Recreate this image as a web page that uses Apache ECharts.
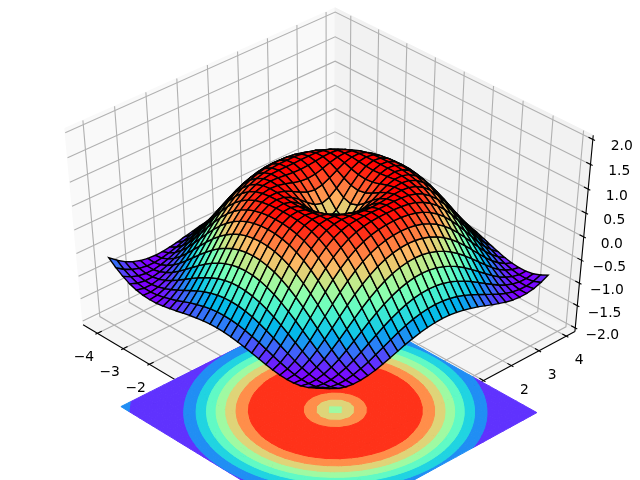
<!DOCTYPE html>
<html><head><meta charset="utf-8">
<style>html,body{margin:0;padding:0;background:#fff}#c{width:640px;height:480px}</style>
<script src="https://cdn.jsdelivr.net/npm/echarts@6/dist/echarts.min.js"></script>
</head><body><div id="c"></div>
<script>
const xTicks=[-4,-3,-2,-1,0,1,2,3,4];
const yTicks=[-4,-3,-2,-1,0,1,2,3,4];
const zTicks=[-2,-1.5,-1,-0.5,0,0.5,1,1.5,2];
const gridSteps=[-4,-3.75,-3.5,-3.25,-3,-2.75,-2.5,-2.25,-2,-1.75,-1.5,-1.25,-1,-0.75,-0.5,-0.25,0,0.25,0.5,0.75,1,1.25,1.5,1.75,2,2.25,2.5,2.75,3,3.25,3.5,3.75];
const contourLevels=[-1,-0.75,-0.5,-0.25,0,0.25,0.5,0.75,1];
// surface height, by grid-step distance from the centre (0..16) along each horizontal direction
const heightTable=[
[0,.247,.479,.682,.841,.949,.997,.984,.909,.778,.598,.382,.141,-.108,-.351,-.572,-.757],
[.247,.346,.530,.711,.858,.957,.999,.981,.903,.769,.588,.372,.131,-.117,-.359,-.579,-.762],
[.479,.530,.650,.784,.899,.975,1,.969,.882,.742,.558,.339,.100,-.146,-.384,-.599,-.777],
[.682,.711,.784,.873,.949,.994,.994,.945,.844,.696,.507,.288,.049,-.192,-.423,-.631,-.802],
[.841,.858,.899,.949,.988,1,.973,.903,.787,.628,.434,.214,-.021,-.256,-.478,-.675,-.832],
[.949,.957,.975,.994,1,.981,.928,.837,.705,.538,.339,.121,-.108,-.334,-.544,-.723,-.868],
[.997,.999,1,.994,.973,.928,.853,.742,.598,.424,.224,.009,-.211,-.423,-.619,-.782,-.905],
[.984,.981,.969,.945,.903,.837,.742,.618,.465,.288,.090,-.117,-.325,-.522,-.698,-.841,-.941],
[.909,.903,.882,.844,.787,.705,.598,.465,.308,.131,-.060,-.256,-.449,-.625,-.777,-.895,-.971],
[.778,.769,.742,.696,.628,.538,.424,.288,.131,-.040,-.220,-.399,-.572,-.723,-.852,-.944,-.993],
[.598,.588,.558,.507,.434,.339,.224,.090,-.060,-.220,-.384,-.544,-.692,-.819,-.917,-.979,-1],
[.382,.372,.339,.288,.214,.121,.009,-.117,-.256,-.399,-.544,-.680,-.802,-.899,-.966,-.998,-.990],
[.141,.131,.100,.049,-.021,-.108,-.211,-.325,-.449,-.572,-.692,-.802,-.891,-.958,-.995,-.996,-.959],
[-.108,-.117,-.146,-.192,-.256,-.334,-.423,-.522,-.625,-.723,-.819,-.899,-.958,-.993,-.998,-.970,-.905],
[-.351,-.359,-.384,-.423,-.478,-.544,-.619,-.698,-.777,-.852,-.917,-.966,-.995,-.998,-.972,-.914,-.825],
[-.572,-.579,-.599,-.631,-.675,-.723,-.782,-.841,-.895,-.944,-.979,-.998,-.996,-.970,-.914,-.832,-.716],
[-.757,-.762,-.777,-.802,-.832,-.868,-.905,-.941,-.971,-.993,-1,-.990,-.959,-.905,-.825,-.716,-.586]
];
const xLimits=[-4.3875,4.1375], yLimits=[-4.3875,4.1375], zLimits=[-2,2];
const contourOffset=-4;
const view={elev:43.5,azim:-43.5,dist:10};

const rE=view.elev*Math.PI/180,rA=view.azim*Math.PI/180;
const n=[Math.cos(rA)*Math.cos(rE),Math.sin(rA)*Math.cos(rE),Math.sin(rE)];
const u=[-Math.sin(rA),Math.cos(rA),0];
const v=[-n[2]*Math.cos(rA),-n[2]*Math.sin(rA),Math.cos(rE)];
const unitPad=1/48;
function unit(p){return [(p[0]-xLimits[0])/(xLimits[1]-xLimits[0]),(p[1]-yLimits[0])/(yLimits[1]-yLimits[0]),(p[2]-zLimits[0])/(zLimits[1]-zLimits[0])];}
function projU(q){const d=[q[0]-.5,q[1]-.5,q[2]-.5];
  const w=view.dist-(d[0]*n[0]+d[1]*n[1]+d[2]*n[2]);
  return {x:(d[0]*u[0]+d[1]*u[1])/w,y:(d[0]*v[0]+d[1]*v[1]+d[2]*v[2])/w,w};}
function proj(p){return projU(unit(p));}
function xy(r){return [r.x,r.y];}

function rainbow(t){t=Math.max(0,Math.min(1,t));
  const r=Math.min(1,Math.abs(2*t-.5)),g=Math.sin(Math.PI*t),b=Math.cos(Math.PI*t/2);
  return `rgb(${Math.round(r*255)},${Math.round(g*255)},${Math.round(b*255)})`;}
function heightAt(i,j){return heightTable[Math.abs(i-16)][Math.abs(j-16)];}

// panes and grid in unit-cube coordinates
const a0=-unitPad,a1=1+unitPad;
const panes=[
 {pts:[[a0,a0,a0],[a0,a1,a0],[a0,a1,a1],[a0,a0,a1]],fill:'rgb(249,249,249)'},
 {pts:[[a0,a1,a0],[a1,a1,a0],[a1,a1,a1],[a0,a1,a1]],fill:'rgb(242,242,242)'},
 {pts:[[a0,a0,a0],[a1,a0,a0],[a1,a1,a0],[a0,a1,a0]],fill:'rgb(245,245,245)'}
];
const gridLines=[];
xTicks.forEach(t=>{const q=unit([t,0,0])[0];gridLines.push([[q,a0,a0],[q,a1,a0],[q,a1,a1]]);});
yTicks.forEach(t=>{const q=unit([0,t,0])[1];gridLines.push([[a1,q,a0],[a0,q,a0],[a0,q,a1]]);});
zTicks.forEach(t=>{const q=unit([0,0,t])[2];gridLines.push([[a0,a0,q],[a0,a1,q],[a1,a1,q]]);});
const axisLines=[[[a0,a0,a0],[a1,a0,a0]],[[a1,a0,a0],[a1,a1,a0]],[[a1,a1,a0],[a1,a1,a1]]];
const tOut=.1/12,tIn=.2/12,lab=(3.5+8)*(48/806.4)/12;
const labelDrop=7;
const tickLines=[],tickLabels=[];
const fmt=(s)=>String(s).replace('-','\u2212');
xTicks.forEach(t=>{const q=unit([t,0,0])[0];tickLines.push([[q,a0+tIn,a0],[q,a0-tOut,a0]]);tickLabels.push({p:[q,a0-lab,a0-lab],s:fmt(t)});});
yTicks.forEach(t=>{const q=unit([0,t,0])[1];tickLines.push([[a1-tIn,q,a0],[a1+tOut,q,a0]]);tickLabels.push({p:[a1+lab,q,a0-lab],s:fmt(t)});});
zTicks.forEach(t=>{const q=unit([0,0,t])[2];tickLines.push([[a1-tIn,a1,q],[a1+tOut,a1,q]]);tickLabels.push({p:[a1+lab,a1+lab,q],s:fmt(t.toFixed(1))});});

// surface quads, far to near
const quads=[];
for(let i=0;i<31;i++)for(let j=0;j<31;j++){
  const c=[[i,j],[i+1,j],[i+1,j+1],[i,j+1]].map(([a,b])=>[gridSteps[a],gridSteps[b],heightAt(a,b)]);
  const pr=c.map(proj);
  quads.push({pts:pr.map(xy),depth:pr.reduce((s,r)=>s+r.w,0)/4,avg:c.reduce((s,r)=>s+r[2],0)/4});
}
const lo=Math.min(...quads.map(q=>q.avg)),hi=Math.max(...quads.map(q=>q.avg));
quads.forEach(q=>q.fill=rainbow((q.avg-lo)/(hi-lo)));
quads.sort((a,b)=>b.depth-a.depth);

// filled contour pieces, each grid cell clipped to each band
function clip(poly,lev,keepAbove){const out=[];
  for(let k=0;k<poly.length;k++){const A=poly[k],B=poly[(k+1)%poly.length];
    const ia=keepAbove?A[2]>=lev:A[2]<=lev,ib=keepAbove?B[2]>=lev:B[2]<=lev;
    if(ia)out.push(A);
    if(ia!==ib){const f=(lev-A[2])/(B[2]-A[2]);out.push([A[0]+f*(B[0]-A[0]),A[1]+f*(B[1]-A[1]),lev]);}
  }return out;}
const bands=[];
for(let l=0;l<contourLevels.length-1;l++){
  const col=rainbow((contourLevels[l]+contourLevels[l+1])/2*.5+.5);
  for(let i=0;i<31;i++)for(let j=0;j<31;j++){
    const c=[[i,j],[i+1,j],[i+1,j+1],[i,j+1]].map(([a,b])=>[gridSteps[a],gridSteps[b],heightAt(a,b)]);
    let p=clip(clip(c,contourLevels[l],true),contourLevels[l+1],false);
    if(p.length>2)bands.push({pts:p.map(r=>xy(proj([r[0],r[1],contourOffset]))),fill:col});
  }
}

function polySeries(name,items,styleOf,shape){return {name,type:'custom',coordinateSystem:'cartesian2d',silent:true,animation:false,clip:false,
  progressive:0,data:items.map((_,i)=>[i]),encode:{x:0,y:0},
  renderItem:(p,api)=>{const it=items[api.value(0)];
    const pts=(it.pts).map(q=>api.coord(q));
    return {type:shape,shape:{points:pts},style:styleOf(it)};}};}
const U=list=>list.map(l=>({pts:l.map(q=>xy(projU(q)))}));
const paneItems=panes.map(k=>({pts:k.pts.map(q=>xy(projU(q))),fill:k.fill}));

const chart=echarts.init(document.getElementById('c'),null,{renderer:'canvas',width:640,height:480});
chart.setOption({
  animation:false,backgroundColor:'#fff',
  grid:{left:0,right:0,top:0,bottom:0},
  xAxis:{type:'value',min:-0.095,max:0.09,show:false},
  yAxis:{type:'value',min:-0.095,max:0.09,show:false},
  series:[
    polySeries('panes',paneItems,it=>({fill:it.fill,stroke:it.fill,lineWidth:1}),'polygon'),
    polySeries('grid',U(gridLines),()=>({fill:null,stroke:'#b0b0b0',lineWidth:1.1}),'polyline'),
    polySeries('axes',U(axisLines),()=>({fill:null,stroke:'#000',lineWidth:1.1}),'polyline'),
    polySeries('ticks',U(tickLines),()=>({fill:null,stroke:'#000',lineWidth:1.1}),'polyline'),
    {name:'tickLabels',type:'custom',coordinateSystem:'cartesian2d',silent:true,animation:false,clip:false,
     data:tickLabels.map((_,i)=>[i]),encode:{x:0,y:0},
     renderItem:(p,api)=>{const t=tickLabels[api.value(0)];const c=api.coord(xy(projU(t.p)));
       return {type:'text',x:c[0],y:c[1]+labelDrop,style:{text:t.s,fill:'#000',font:'13.89px "DejaVu Sans"',align:'center',verticalAlign:'middle'}};}},
    polySeries('contour',bands,it=>({fill:it.fill,stroke:it.fill,lineWidth:1}),'polygon'),
    polySeries('surface',quads,it=>({fill:it.fill,stroke:'#000',lineWidth:1.4}),'polygon')
  ]
});
</script></body></html>
